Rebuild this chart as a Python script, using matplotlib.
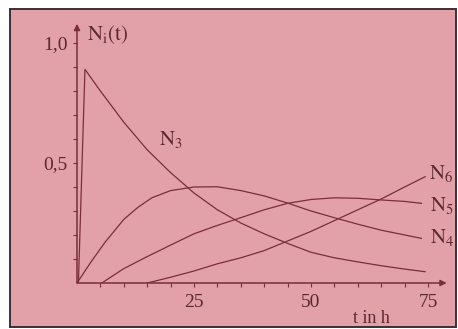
import numpy as np
import matplotlib
matplotlib.use("Agg")
import matplotlib.pyplot as plt
from matplotlib.patches import Rectangle

plt.rcParams['font.family'] = ['Liberation Serif', 'DejaVu Serif']
plt.rcParams['mathtext.fontset'] = 'stix'

# curves (t in h, N_i)
t3 = [0.3, 1.7, 5, 10, 15, 20, 25, 30, 35, 40, 45, 50, 55, 60, 65, 70, 74.4]
n3 = [0, 0.89, 0.80, 0.67, 0.555, 0.46, 0.375, 0.305, 0.25, 0.205, 0.165, 0.128, 0.105, 0.088, 0.072, 0.058, 0.047]

t4 = [0, 3, 6, 10, 13, 16, 20, 25, 30, 35, 40, 45, 50, 55, 60, 65, 73.6]
n4 = [0, 0.088, 0.17, 0.265, 0.315, 0.355, 0.385, 0.40, 0.401, 0.385, 0.363, 0.333, 0.30, 0.272, 0.245, 0.22, 0.186]

t5 = [5.3, 10, 15, 20, 25, 30, 35, 40, 45, 50, 55, 60, 65, 70, 73.6]
n5 = [0, 0.06, 0.11, 0.158, 0.205, 0.24, 0.272, 0.305, 0.332, 0.348, 0.355, 0.353, 0.346, 0.34, 0.332]

t6 = [15, 20, 25, 30, 35, 40, 45, 50, 55, 60, 65, 70, 74.4]
n6 = [0, 0.024, 0.05, 0.08, 0.105, 0.135, 0.175, 0.215, 0.26, 0.305, 0.35, 0.40, 0.443]

xticks = [25, 50, 75]
xlabels = ["25", "50", "75"]
yticks = [0.5, 1.0]
ylabels = ["0,5", "1,0"]

pink = '#e2a0a8'
ink = '#7a2e3a'
txt = '#5a2830'

fig = plt.figure(figsize=(4.58, 3.29), dpi=100)
fig.patch.set_facecolor('white')
# scanned page area with its dark edge
fig.patches.append(Rectangle((10/458, 2/329), 446/458, 318/329, transform=fig.transFigure,
                             facecolor=pink, edgecolor='#3a3035', linewidth=1.4, zorder=-10))

ax = fig.add_axes([77/458, 46/329, 369.7/458, 259.2/329])
ax.set_facecolor('none')
ax.set_xlim(0, 79)
ax.set_ylim(0, 1.08)
for s in ax.spines.values():
    s.set_visible(False)

lw = 0.9
ax.plot(t3, n3, color=ink, lw=lw)
ax.plot(t4, n4, color=ink, lw=lw)
ax.plot(t5, n5, color=ink, lw=lw)
ax.plot(t6, n6, color=ink, lw=lw)

# axes with arrow heads
ax.annotate('', xy=(79, 0), xytext=(0, 0), annotation_clip=False,
            arrowprops=dict(arrowstyle='-|>', color=ink, lw=1.1, mutation_scale=9, shrinkA=0, shrinkB=0))
ax.annotate('', xy=(0, 1.08), xytext=(0, 0), annotation_clip=False,
            arrowprops=dict(arrowstyle='-|>', color=ink, lw=1.1, mutation_scale=9, shrinkA=0, shrinkB=0))

ax.set_xticks(xticks)
ax.set_xticklabels(xlabels)
ax.set_xticks(np.arange(5, 76, 5), minor=True)
ax.set_yticks(yticks)
ax.set_yticklabels(ylabels)
ax.set_yticks(np.arange(0.1, 1.01, 0.1), minor=True)
ax.tick_params(axis='both', which='both', length=3, width=0.8, color=ink, labelsize=14, labelcolor=txt)
ax.tick_params(axis='x', which='major', pad=5)
ax.tick_params(axis='y', which='major', pad=4)

fs = 15
ax.text(2.1, 1.033, r'$\mathrm{N_i(t)}$', fontsize=fs, color=txt, ha='left', va='center')
ax.text(20.1, 0.60, r'$\mathrm{N_3}$', fontsize=fs, color=txt, ha='center', va='center')
ax.text(75.2, 0.458, r'$\mathrm{N_6}$', fontsize=fs, color=txt, ha='left', va='center', clip_on=False)
ax.text(75.4, 0.325, r'$\mathrm{N_5}$', fontsize=fs, color=txt, ha='left', va='center', clip_on=False)
ax.text(75.4, 0.1875, r'$\mathrm{N_4}$', fontsize=fs, color=txt, ha='left', va='center', clip_on=False)
ax.text(63, -0.146, 't in h', fontsize=13, color=txt, ha='center', va='center', clip_on=False)

fig.savefig('out.png', dpi=100, facecolor=fig.get_facecolor())
